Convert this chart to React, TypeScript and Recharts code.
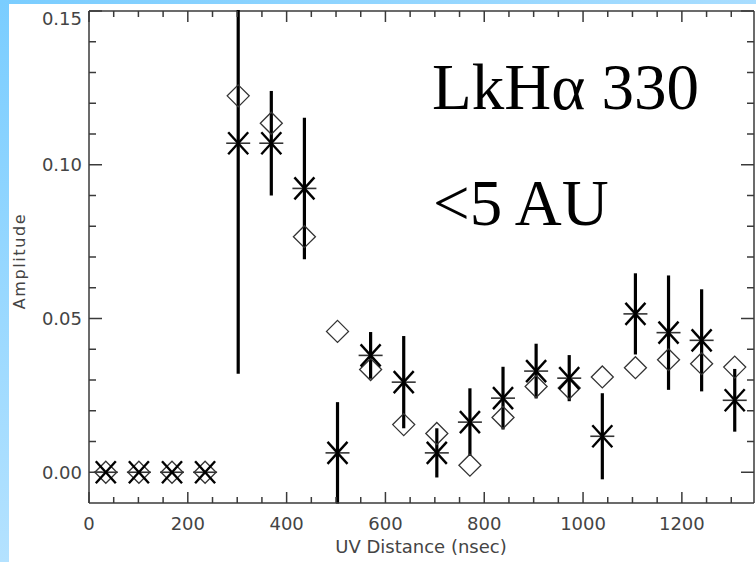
import React from 'react';
import { ScatterChart, Scatter, XAxis, YAxis, ErrorBar, ReferenceLine, Customized } from 'recharts';

// Baseline lengths (nsec) of the binned visibilities
const uvDistance = [34, 101, 168, 235, 302, 369, 436, 503, 570, 637, 704, 771, 838, 905, 972, 1039, 1106, 1173, 1240, 1307];
// Measured amplitudes (asterisks) and their 1-sigma errors
const measuredAmp = [0, 0, 0, 0, 0.107, 0.107, 0.0923, 0.0063, 0.038, 0.0293, 0.0063, 0.0163, 0.0241, 0.0329, 0.0306, 0.0117, 0.0515, 0.0454, 0.0429, 0.0234];
const measuredErr = [0, 0, 0, 0, 0.075, 0.017, 0.023, 0.0165, 0.0076, 0.015, 0.008, 0.011, 0.0102, 0.0089, 0.0075, 0.014, 0.0132, 0.0186, 0.0166, 0.0102];
// Model amplitudes (open diamonds)
const modelAmp = [0, 0, 0, 0, 0.1224, 0.1135, 0.0766, 0.0458, 0.0334, 0.0155, 0.0126, 0.0023, 0.0178, 0.0279, 0.0274, 0.031, 0.034, 0.0366, 0.0353, 0.0342];

const xMajorTicks = [0, 200, 400, 600, 800, 1000, 1200];
const xMinorTicks = [50, 100, 150, 250, 300, 350, 450, 500, 550, 650, 700, 750, 850, 900, 950, 1050, 1100, 1150, 1250, 1300];
const yMajorTicks = [0, 0.05, 0.1, 0.15];
const yMinorTicks = [0.01, 0.02, 0.03, 0.04, 0.06, 0.07, 0.08, 0.09, 0.11, 0.12, 0.13, 0.14];

const xDomain = [0, 1346];
const yDomain = [-0.01, 0.15];

const measuredData = uvDistance.map((x, i) => ({ x, y: measuredAmp[i], err: measuredErr[i] }));
const modelData = uvDistance.map((x, i) => ({ x, y: modelAmp[i] }));

const xTicks = [...xMajorTicks, ...xMinorTicks].sort((a, b) => a - b);
const yTicks = [...yMajorTicks, ...yMinorTicks].sort((a, b) => a - b);

// Chart frame: margins + axis sizes place the plot box here
const WIDTH = 756;
const HEIGHT = 562;
const MARGIN = { top: 11, right: 2, bottom: 0, left: 0 };
const Y_AXIS_WIDTH = 89;
const X_AXIS_HEIGHT = 59;
const FRAME = {
  left: MARGIN.left + Y_AXIS_WIDTH,
  right: WIDTH - MARGIN.right,
  top: MARGIN.top,
  bottom: HEIGHT - MARGIN.bottom - X_AXIS_HEIGHT,
};

const AXIS = '#3a3a3a';
const LABEL_FONT = '"DejaVu Sans", sans-serif';
const TITLE_FONT = '"Liberation Serif", "Times New Roman", serif';

const isMajor = (v: number, list: number[]) => list.some((m) => Math.abs(m - v) < 1e-9);

// Ticks point inward on both the bottom and the mirrored top edge
const XTick = (props: any) => {
  const { x, payload } = props;
  const major = isMajor(payload.value, xMajorTicks);
  const len = major ? 11 : 6;
  return (
    <g>
      <line x1={x} x2={x} y1={FRAME.bottom} y2={FRAME.bottom - len} stroke={AXIS} strokeWidth={1.5} />
      <line x1={x} x2={x} y1={FRAME.top} y2={FRAME.top + len} stroke={AXIS} strokeWidth={1.5} />
      {major && (
        <text x={x} y={FRAME.bottom + 27} textAnchor="middle" fontFamily={LABEL_FONT} fontSize={18} fill="#444">
          {payload.value}
        </text>
      )}
    </g>
  );
};

// Ticks point inward on both the left and the mirrored right edge
const YTick = (props: any) => {
  const { y, payload } = props;
  const major = isMajor(payload.value, yMajorTicks);
  const len = major ? 13 : 7;
  return (
    <g>
      <line x1={FRAME.left} x2={FRAME.left + len} y1={y} y2={y} stroke={AXIS} strokeWidth={1.5} />
      <line x1={FRAME.right} x2={FRAME.right - len} y1={y} y2={y} stroke={AXIS} strokeWidth={1.5} />
      {major && (
        <text
          x={FRAME.left - 7}
          y={Math.max(y + 6.5, FRAME.top + 14)}
          textAnchor="end"
          fontFamily={LABEL_FONT}
          fontSize={18}
          fill="#444"
        >
          {payload.value.toFixed(2)}
        </text>
      )}
    </g>
  );
};

const Asterisk = (props: any) => {
  const { cx, cy } = props;
  if (cx == null || cy == null) return null;
  return (
    <g>
      <line x1={cx - 12} x2={cx + 12} y1={cy} y2={cy} stroke="#333" strokeWidth={1.6} />
      <line x1={cx - 10} x2={cx + 10} y1={cy - 11} y2={cy + 11} stroke="#000" strokeWidth={2.4} />
      <line x1={cx - 10} x2={cx + 10} y1={cy + 11} y2={cy - 11} stroke="#000" strokeWidth={2.4} />
    </g>
  );
};

const Diamond = (props: any) => {
  const { cx, cy } = props;
  if (cx == null || cy == null) return null;
  const r = 11;
  return (
    <path
      d={`M${cx},${cy - r}L${cx + r},${cy}L${cx},${cy + r}L${cx - r},${cy}Z`}
      fill="none"
      stroke="#333"
      strokeWidth={1.3}
    />
  );
};

const Annotations = () => (
  <g>
    <text x={432} y={109} fontFamily={TITLE_FONT} fontSize={65} fill="#000">
      LkHα 330
    </text>
    <text x={433} y={225} fontFamily={TITLE_FONT} fontSize={65} fill="#000">
      &lt;5 AU
    </text>
    <text
      x={25}
      y={261}
      transform="rotate(-90, 25, 261)"
      textAnchor="middle"
      fontFamily={LABEL_FONT}
      fontSize={16}
      letterSpacing={1.6}
      fill="#444"
    >
      Amplitude
    </text>
    <text x={421} y={553} textAnchor="middle" fontFamily={LABEL_FONT} fontSize={18} fill="#444">
      UV Distance (nsec)
    </text>
  </g>
);

export default function App() {
  return (
    <div
      style={{
        position: 'fixed',
        left: 0,
        top: 0,
        width: WIDTH,
        height: HEIGHT,
        background: '#fff',
        overflow: 'hidden',
      }}
    >
      <div style={{ position: 'absolute', left: 0, top: 0 }}>
        <ScatterChart width={WIDTH} height={HEIGHT} margin={MARGIN}>
          <XAxis
            type="number"
            dataKey="x"
            domain={xDomain}
            allowDataOverflow
            ticks={xTicks}
            interval={0}
            height={X_AXIS_HEIGHT}
            tickLine={false}
            tick={XTick}
            axisLine={{ stroke: AXIS, strokeWidth: 1.5 }}
          />
          <YAxis
            type="number"
            dataKey="y"
            domain={yDomain}
            allowDataOverflow
            ticks={yTicks}
            interval={0}
            width={Y_AXIS_WIDTH}
            tickLine={false}
            tick={YTick}
            axisLine={{ stroke: AXIS, strokeWidth: 1.5 }}
          />
          <ReferenceLine y={yDomain[1]} stroke={AXIS} strokeWidth={1.5} />
          <ReferenceLine x={xDomain[1]} stroke={AXIS} strokeWidth={1.5} />
          <Scatter data={modelData} shape={Diamond} isAnimationActive={false} />
          <Scatter data={measuredData} shape={Asterisk} isAnimationActive={false}>
            <ErrorBar dataKey="err" direction="y" width={0} strokeWidth={3.2} stroke="#000" isAnimationActive={false} />
          </Scatter>
          <Customized component={Annotations} />
        </ScatterChart>
      </div>
      {/* page border above the frame: hides anything reaching past the top edge */}
      <div
        style={{
          position: 'absolute',
          left: 0,
          top: 0,
          width: WIDTH,
          height: FRAME.top - 1,
          background: '#fff',
        }}
      >
        <div
          style={{
            width: WIDTH,
            height: 4,
            background: 'linear-gradient(to right, #7acdff, #a8ddff)',
          }}
        />
      </div>
      <div
        style={{
          position: 'absolute',
          left: 0,
          top: 0,
          width: 9,
          height: HEIGHT,
          background: 'linear-gradient(to bottom, #7acdff, #b4e2ff)',
        }}
      />
    </div>
  );
}
